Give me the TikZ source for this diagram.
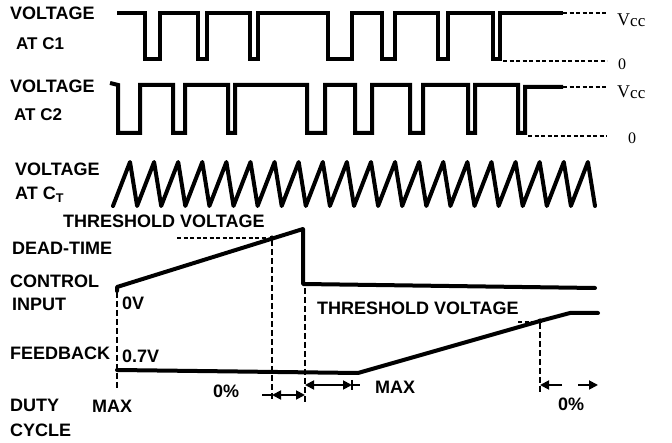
\documentclass[tikz,border=0pt]{standalone}
\usepackage{fontspec}
\setmainfont{Liberation Sans}
\newfontfamily\serifv{Liberation Serif}
\usetikzlibrary{arrows.meta}
\newcommand{\vccl}{{\fontsize{18}{18}\selectfont V}\raisebox{-1.5pt}{\fontsize{17}{17}\selectfont cc}}
\newcommand{\zerol}{{\fontsize{16}{16}\selectfont 0}}
\begin{document}
\begin{tikzpicture}[x=1pt,y=-1pt,
  lbl/.style={anchor=west,inner sep=0pt,font=\fontsize{18}{18}\selectfont\bfseries},
  slbl/.style={anchor=west,inner sep=0pt,font=\fontsize{17}{17}\selectfont\bfseries},
  vlbl/.style={anchor=west,inner sep=0pt,font=\serifv},
  wave/.style={line width=4pt,line join=miter,line cap=butt},
  ramp/.style={line width=4pt,line cap=round,line join=round},
  dsh/.style={line width=1.8pt,dash pattern=on 4pt off 2.5pt},
  vdsh/.style={line width=2.2pt,dash pattern=on 6pt off 3pt},
  thin/.style={line width=1.8pt},
  dim/.style={line width=1.8pt,-{Triangle[length=9pt,width=9pt]}},
  dimb/.style={line width=1.8pt,{Triangle[length=9pt,width=9pt]}-{Triangle[length=9pt,width=9pt]}}]
\useasboundingbox (0,0) rectangle (672,443);
% labels
\node[lbl] (v1) at (10,13) {VOLTAGE};
\node[slbl] (a1) at (16,44) {AT C1};
\node[lbl] (v2) at (10,86) {VOLTAGE};
\node[slbl] (a2) at (14,115) {AT C2};
\node[lbl] (v3) at (15,169) {VOLTAGE};
\node[lbl] (a3) at (15,195) {AT C\textsubscript{T}};
\node[lbl] (th1) at (63,221) {THRESHOLD VOLTAGE};
\node[lbl] (dt) at (12,248) {DEAD-TIME};
\node[lbl] (ct) at (10,281) {CONTROL};
\node[lbl] (in) at (12,304) {INPUT};
\node[lbl] (ov) at (122,303) {0V};
\node[lbl] (fb) at (10,353) {FEEDBACK};
\node[lbl] (sv) at (122,356) {0.7V};
\node[lbl] (zp1) at (213,391) {0\%};
\node[lbl] (du) at (10,405) {DUTY};
\node[lbl] (mx1) at (92,406) {MAX};
\node[lbl] (cy) at (10,430) {CYCLE};
\node[lbl] (th2) at (317,308) {THRESHOLD VOLTAGE};
\node[lbl] (mx2) at (375,387) {MAX};
\node[lbl] (zp2) at (558,404) {0\%};
\node[vlbl] (vc1) at (617,20) {\vccl};
\node[vlbl] (z1) at (618,64) {\zerol};
\node[vlbl] (vc2) at (617,92) {\vccl};
\node[vlbl] (z2) at (628,138) {\zerol};
% C1
\draw[wave] (117,13) -- (145,13) -- (145,59) -- (160,59) -- (160,13) -- (198,13) -- (198,59) -- (207,59) -- (207,13) -- (250,13) -- (250,59) -- (258,59) -- (258,13) -- (328,13) -- (328,59) -- (352,59) -- (352,13) -- (382,13) -- (382,59) -- (395,59) -- (395,13) -- (438,13) -- (438,59) -- (448,59) -- (448,13) -- (493,13) -- (493,59) -- (500,59) -- (500,13) -- (563,13);
\draw[dsh] (563,13) -- (607,13);
\draw[dsh] (503,61) -- (607,61);
% C2
\draw[wave] (110,83) -- (118,85) -- (118,133) -- (140,133) -- (140,85) -- (173,85) -- (173,133) -- (185,133) -- (185,85) -- (228,85) -- (228,133) -- (235,133) -- (235,85) -- (307,85) -- (307,133) -- (325,133) -- (325,85) -- (355,85) -- (355,133) -- (372,133) -- (372,85) -- (410,85) -- (410,133) -- (423,133) -- (423,85) -- (468,85) -- (468,133) -- (475,133) -- (475,85) -- (518,85) -- (518,133) -- (525,133) -- (525,87) -- (563,87);
\draw[dsh] (563,87) -- (607,87);
\draw[dsh] (528,136) -- (607,136);
% sawtooth
\draw[ramp] (113,206) \foreach \i in {0,...,19} { -- ({113+24.1*\i+17},162) -- ({113+24.1*(\i+1)},206) };
% dead-time control
\draw[ramp] (117,291) -- (117,287) -- (303,229) -- (303,284) -- (595,288);
\draw[dsh] (177,238) -- (268,238);
\fill (272,238) circle (2.5pt);
% feedback
\draw[ramp] (117,370) -- (358,373) -- (540,321) -- (570,313) -- (598,313);
\draw[dsh] (518,322) -- (536,322);
\fill (540,321) circle (2.5pt);
% vertical dashed
\coordinate (d0t) at (117,292); \coordinate (d0b) at (117,390);
\coordinate (d1t) at (272,240); \coordinate (d1b) at (272,400);
\coordinate (d2t) at (305,288); \coordinate (d2b) at (305,402);
\coordinate (d3t) at (540,323); \coordinate (d3b) at (540,392);
\draw[vdsh] (d0t) -- (d0b);
\draw[vdsh] (d1t) -- (d1b);
\draw[vdsh] (d2t) -- (d2b);
\draw[vdsh] (d3t) -- (d3b);
% dimension arrows: 0% (left)
\coordinate (a0) at (262,395); \coordinate (a1e) at (272,395);
\coordinate (a2e) at (305,395);
\draw[thin] (a0) -- (a1e);
\draw[dimb] (a1e) -- (a2e);
% MAX (middle)
\coordinate (b1e) at (305,385); \coordinate (b2e) at (352,385); \coordinate (b3) at (360,385);
\draw[dimb] (b1e) -- (b2e);
\draw[thin] (b2e) -- (b3);
\draw[thin] (352,380) -- (352,390);
% 0% (right)
\coordinate (c1s) at (562,385); \coordinate (c1e) at (540,385);
\coordinate (c2s) at (578,385); \coordinate (c2e) at (598,385);
\draw[dim] (c1s) -- (c1e);
\draw[dim] (c2s) -- (c2e);
\end{tikzpicture}
\end{document}
